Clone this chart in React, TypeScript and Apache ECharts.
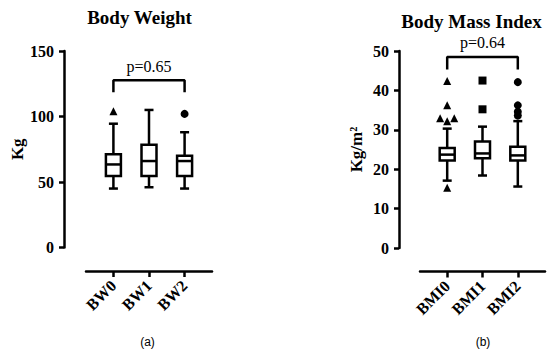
import React, { useEffect, useRef } from "react";
import * as echarts from "echarts";

// ---- Data ----
const bwCategories = ["BW0", "BW1", "BW2"];
// [min, q1, median, q3, max]
const bwBoxes = [
  [45, 54.5, 63.4, 71.2, 94.5],
  [46, 54.5, 66, 78.5, 105],
  [45, 54.5, 66, 70, 88],
];
const bw0Outliers = [[0, 104]];
const bw1Outliers: number[][] = [];
const bw2Outliers = [[2, 102]];
const bwPValue = "p=0.65";
const bwBracket = { from: 0, to: 2, low: 118.5, high: 127.7 };

const bmiCategories = ["BMI0", "BMI1", "BMI2"];
const bmiBoxes = [
  [17.1, 22.2, 23.7, 25.4, 30.3],
  [18.4, 22.8, 24.0, 27.0, 30.8],
  [15.6, 22.2, 23.5, 25.7, 32.2],
];
const bmi0Outliers = [
  [0, 42.4],
  [0, 36.2],
  [-0.2, 32.9],
  [0, 32.2],
  [0.2, 32.9],
  [0, 15.3],
];
const bmi1Outliers = [
  [1, 42.5],
  [1, 35.2],
];
const bmi2Outliers = [
  [2, 42.1],
  [2, 36.2],
  [2, 34.6],
  [2, 33.6],
];
const bmiPValue = "p=0.64";
const bmiBracket = { from: 0, to: 2, low: 45.3, high: 48.5 };

const bwTicks = { min: 0, max: 150, interval: 50 };
const bmiTicks = { min: 0, max: 50, interval: 10 };

const SERIF = '"Liberation Serif", "Times New Roman", serif';
const SANS = '"Liberation Sans", Arial, sans-serif';
const LW = 2.5;

function renderBox(params: any, api: any) {
  const x = api.value(0);
  const pMin = api.coord([x, api.value(1)]);
  const pQ1 = api.coord([x, api.value(2)]);
  const pMed = api.coord([x, api.value(3)]);
  const pQ3 = api.coord([x, api.value(4)]);
  const pMax = api.coord([x, api.value(5)]);
  const cx = pMin[0];
  const hw = 7.5;
  const cw = 4.5;
  const style = { stroke: "#000", lineWidth: LW, fill: "none" };
  return {
    type: "group",
    children: [
      { type: "line", shape: { x1: cx, y1: pQ3[1], x2: cx, y2: pMax[1] }, style },
      { type: "line", shape: { x1: cx, y1: pQ1[1], x2: cx, y2: pMin[1] }, style },
      { type: "line", shape: { x1: cx - cw, y1: pMax[1], x2: cx + cw, y2: pMax[1] }, style },
      { type: "line", shape: { x1: cx - cw, y1: pMin[1], x2: cx + cw, y2: pMin[1] }, style },
      {
        type: "rect",
        shape: { x: cx - hw, y: pQ3[1], width: hw * 2, height: pQ1[1] - pQ3[1] },
        style: { stroke: "#000", lineWidth: LW, fill: "#fff" },
      },
      { type: "line", shape: { x1: cx - hw, y1: pMed[1], x2: cx + hw, y2: pMed[1] }, style },
    ],
  };
}

function makeXAxis(gridIndex: number, cats: string[]) {
  return {
    type: "value",
    gridIndex,
    min: -0.77,
    max: 2.77,
    position: "bottom",
    offset: 23.5,
    splitLine: { show: false },
    axisLine: { show: true, onZero: false, lineStyle: { color: "#000", width: LW } },
    axisTick: { show: true, customValues: [0, 1, 2], length: 6, lineStyle: { color: "#000", width: LW } },
    axisLabel: {
      customValues: [0, 1, 2],
      rotate: 45,
      margin: 12,
      formatter: (v: number) => cats[Math.round(v)] ?? "",
      color: "#000",
      fontFamily: SERIF,
      fontWeight: "bold",
      fontSize: 16,
    },
  };
}

function makeYAxis(gridIndex: number, ticks: any, name: string, nameGap: number, offset: number) {
  return {
    type: "value",
    gridIndex,
    min: ticks.min,
    max: ticks.max,
    interval: ticks.interval,
    position: "left",
    offset,
    name,
    nameLocation: "middle",
    nameGap,
    nameTextStyle: { color: "#000", fontFamily: SERIF, fontWeight: "bold", fontSize: 17 },
    splitLine: { show: false },
    axisLine: { show: true, onZero: false, lineStyle: { color: "#000", width: LW } },
    axisTick: { show: true, length: 5, lineStyle: { color: "#000", width: LW } },
    axisLabel: { margin: 10, color: "#000", fontFamily: SERIF, fontWeight: "bold", fontSize: 16 },
  };
}

function outlierSeries(idx: number, data: number[][], symbol: string) {
  return {
    type: "scatter",
    xAxisIndex: idx,
    yAxisIndex: idx,
    symbol,
    symbolSize: 8,
    itemStyle: { color: "#000", opacity: 1 },
    data,
    z: 4,
  };
}

function bracketSeries(idx: number, b: any, text: string) {
  return [
    {
      type: "line",
      xAxisIndex: idx,
      yAxisIndex: idx,
      symbol: "none",
      lineStyle: { color: "#000", width: LW },
      data: [
        [b.from, b.low],
        [b.from, b.high],
        [b.to, b.high],
        [b.to, b.low],
      ],
    },
    {
      type: "scatter",
      xAxisIndex: idx,
      yAxisIndex: idx,
      symbolSize: 0,
      itemStyle: { opacity: 1 },
      data: [[(b.from + b.to) / 2, b.high]],
      label: {
        show: true,
        position: "top",
        distance: 6,
        formatter: text,
        color: "#000",
        opacity: 1,
        fontFamily: SERIF,
        fontSize: 16,
      },
    },
  ];
}

export default function App() {
  const ref = useRef<HTMLDivElement>(null);
  useEffect(() => {
    if (!ref.current) return;
    const chart = echarts.init(ref.current, null, { renderer: "svg" });
    const option: any = {
      animation: false,
      backgroundColor: "#fff",
      grid: [
        { left: 86, width: 126, top: 51, height: 196.5 },
        { left: 420, width: 125, top: 51, height: 197 },
      ],
      xAxis: [makeXAxis(0, bwCategories), makeXAxis(1, bmiCategories)],
      yAxis: [
        makeYAxis(0, bwTicks, "Kg", 38, 22),
        makeYAxis(1, bmiTicks, "Kg/m²", 34, 21),
      ],
      graphic: [
        {
          type: "text",
          x: 139.5,
          y: 17,
          style: { text: "Body Weight", fill: "#000", font: `bold 19px ${SERIF}`, textAlign: "center", textVerticalAlign: "middle" },
        },
        {
          type: "text",
          x: 471.5,
          y: 21,
          style: { text: "Body Mass Index", fill: "#000", font: `bold 19px ${SERIF}`, textAlign: "center", textVerticalAlign: "middle" },
        },
        {
          type: "text",
          x: 147.5,
          y: 342,
          style: { text: "(a)", fill: "#000", font: `12px ${SANS}`, textAlign: "center", textVerticalAlign: "middle" },
        },
        {
          type: "text",
          x: 483,
          y: 342,
          style: { text: "(b)", fill: "#000", font: `12px ${SANS}`, textAlign: "center", textVerticalAlign: "middle" },
        },
      ],
      series: [
        {
          type: "custom",
          xAxisIndex: 0,
          yAxisIndex: 0,
          renderItem: renderBox,
          encode: { x: 0, y: [1, 2, 3, 4, 5] },
          data: bwBoxes.map((b, i) => [i, ...b]),
          z: 3,
        },
        {
          type: "custom",
          xAxisIndex: 1,
          yAxisIndex: 1,
          renderItem: renderBox,
          encode: { x: 0, y: [1, 2, 3, 4, 5] },
          data: bmiBoxes.map((b, i) => [i, ...b]),
          z: 3,
        },
        outlierSeries(0, bw0Outliers, "triangle"),
        outlierSeries(0, bw1Outliers, "rect"),
        outlierSeries(0, bw2Outliers, "circle"),
        outlierSeries(1, bmi0Outliers, "triangle"),
        outlierSeries(1, bmi1Outliers, "rect"),
        outlierSeries(1, bmi2Outliers, "circle"),
        ...bracketSeries(0, bwBracket, bwPValue),
        ...bracketSeries(1, bmiBracket, bmiPValue),
      ],
    };
    chart.setOption(option);
    return () => chart.dispose();
  }, []);
  return (
    <div
      ref={ref}
      style={{ position: "fixed", left: 0, top: 0, width: 550, height: 357 }}
    />
  );
}
